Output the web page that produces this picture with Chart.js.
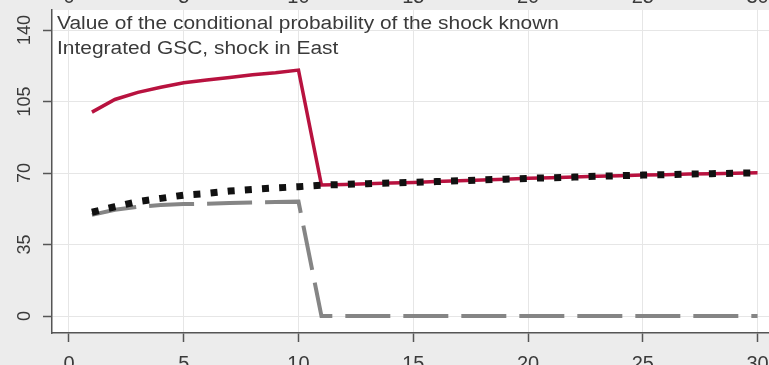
<!DOCTYPE html>
<html>
<head>
<meta charset="utf-8">
<script src="https://cdn.jsdelivr.net/npm/chart.js@4.4.0/dist/chart.umd.min.js"></script>
<style>
  html, body { margin: 0; padding: 0; background: #ececec; }
  #wrap { width: 769px; height: 365px; }
</style>
</head>
<body>
<div id="wrap"><canvas id="c" width="769" height="365"></canvas></div>
<script>
// Periods after the shock
const periods = [1,2,3,4,5,6,7,8,9,10,11,12,13,14,15,16,17,18,19,20,21,22,23,24,25,26,27,28,29,30];

// Solid red series
const solidSeries = [99.8,106.0,109.5,112.0,114.2,115.5,116.8,118.1,119.1,120.4,
                     64.1,64.4,64.8,65.1,65.4,65.8,66.2,66.6,67.0,67.4,
                     67.7,68.0,68.4,68.7,69.0,69.2,69.5,69.7,69.9,70.1];

// Dotted black series
const dottedSeries = [50.8,53.5,56.0,57.6,59.2,60.0,61.2,62.0,62.7,63.3,
                      64.1,64.4,64.8,65.1,65.4,65.8,66.2,66.6,67.0,67.4,
                      67.7,68.0,68.4,68.7,69.0,69.2,69.5,69.7,69.9,70.1];

// Dashed grey series
const dashedSeries = [49.5,52.0,53.5,54.3,54.8,55.0,55.3,55.6,55.8,56.0,
                      0,0,0,0,0,0,0,0,0,0,
                      0,0,0,0,0,0,0,0,0,0];

const xTicks = [0,5,10,15,20,25,30];
const yTicks = [0,35,70,105,140];

const titleLines = ["Value of the conditional probability of the shock known",
                    "Integrated GSC, shock in East"];

const FONT = '"Liberation Sans", Arial, Helvetica, sans-serif';

const toXY = arr => arr.map((v, i) => ({ x: periods[i], y: v }));

// Grey outer region, white plot region
const backgroundPlugin = {
  id: 'regions',
  beforeDraw(chart) {
    const { ctx, chartArea: a } = chart;
    ctx.save();
    ctx.fillStyle = '#ececec';
    ctx.fillRect(0, 0, chart.width, chart.height);
    ctx.fillStyle = '#ffffff';
    ctx.fillRect(a.left, a.top, a.right - a.left, a.bottom - a.top);
    ctx.restore();
  }
};

// Panel caption in the top-left corner plus the neighbouring panel's axis labels
const captionPlugin = {
  id: 'caption',
  afterDraw(chart) {
    const { ctx } = chart;
    const xs = chart.scales.x;
    ctx.save();
    ctx.fillStyle = '#3a3a3a';
    ctx.textBaseline = 'alphabetic';
    ctx.textAlign = 'left';
    ctx.font = '18px ' + FONT;
    const w = ctx.measureText(titleLines[0]).width;
    const sx = 502 / w;
    titleLines.forEach((line, i) => {
      ctx.save();
      ctx.translate(57, 29 + i * 25);
      ctx.scale(sx, 1);
      ctx.fillText(line, 0, 0);
      ctx.restore();
    });
    // tick labels of the panel above, mostly outside the canvas
    ctx.textAlign = 'center';
    ctx.font = '20px ' + FONT;
    xTicks.forEach(v => {
      ctx.fillText(String(v), xs.getPixelForValue(v), 3);
    });
    ctx.restore();
  }
};

const noEdgePadding = s => {
  s.paddingLeft = 0; s.paddingRight = 0; s.paddingTop = 0; s.paddingBottom = 0;
};

new Chart(document.getElementById('c'), {
  type: 'line',
  data: {
    datasets: [
      {
        data: toXY(dottedSeries),
        borderColor: '#111111',
        borderWidth: 7,
        borderDash: [7, 10.2],
        borderCapStyle: 'butt',
        pointRadius: 0,
        tension: 0,
        order: 0
      },
      {
        data: toXY(solidSeries),
        borderColor: '#b8123f',
        borderWidth: 3.5,
        pointRadius: 0,
        tension: 0,
        order: 1
      },
      {
        data: toXY(dashedSeries),
        borderColor: '#858585',
        borderWidth: 4,
        borderDash: [45, 13],
        borderCapStyle: 'butt',
        pointRadius: 0,
        tension: 0,
        order: 2
      }
    ]
  },
  options: {
    responsive: false,
    animation: false,
    devicePixelRatio: 1,
    layout: { padding: { top: 10, right: 0, left: 0, bottom: 0 } },
    plugins: { legend: { display: false }, tooltip: { enabled: false }, title: { display: false } },
    scales: {
      x: {
        type: 'linear',
        min: -0.74,
        max: 30.5,
        afterBuildTicks: s => { s.ticks = xTicks.map(v => ({ value: v })); },
        afterFit: s => { s.height = 32; noEdgePadding(s); },
        grid: { color: '#e6e6e6', lineWidth: 1, tickLength: 9, tickColor: '#555555', tickWidth: 1.5 },
        border: { color: '#555555', width: 1.5 },
        ticks: { font: { family: FONT, size: 20 }, color: '#3a3a3a', padding: 10, maxRotation: 0, minRotation: 0 }
      },
      y: {
        type: 'linear',
        min: -8.3,
        max: 149.8,
        afterBuildTicks: s => { s.ticks = yTicks.map(v => ({ value: v })); },
        afterFit: s => { s.width = 52; noEdgePadding(s); },
        grid: { color: '#e6e6e6', lineWidth: 1, tickLength: 9, tickColor: '#555555', tickWidth: 1.5 },
        border: { color: '#555555', width: 1.5 },
        ticks: { font: { family: FONT, size: 18 }, color: '#3a3a3a', minRotation: 90, maxRotation: 90, crossAlign: 'center', padding: 3 }
      }
    }
  },
  plugins: [backgroundPlugin, captionPlugin]
});
</script>
</body>
</html>
